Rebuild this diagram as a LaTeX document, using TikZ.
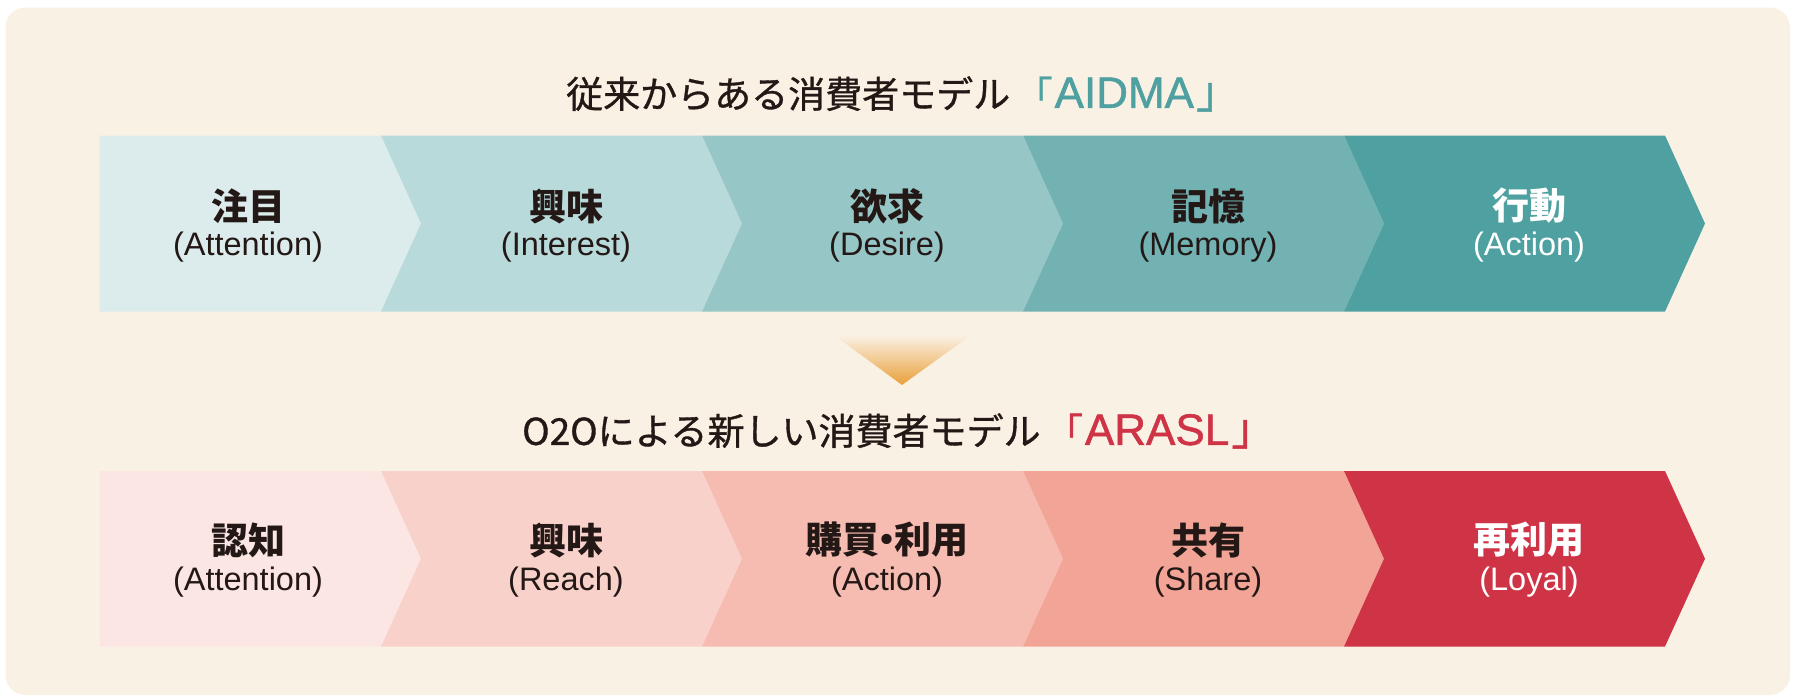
\documentclass[tikz,border=0pt]{standalone}
\usepackage{fontspec}
\setmainfont{Liberation Sans}
\newfontfamily\jp{Noto Sans CJK JP}
\newfontfamily\jpm[FakeBold=0.9]{Noto Sans CJK JP}
\newfontfamily\latm[FakeBold=1.2]{Liberation Sans}
\definecolor{bgc}{HTML}{FAF1E5}
\definecolor{ink}{HTML}{231815}
\definecolor{tA}{HTML}{DCEBEB}
\definecolor{tB}{HTML}{B8DADB}
\definecolor{tC}{HTML}{97C6C6}
\definecolor{tD}{HTML}{72B2B3}
\definecolor{tE}{HTML}{4EA0A1}
\definecolor{rA}{HTML}{FCE6E4}
\definecolor{rB}{HTML}{F9D1CB}
\definecolor{rC}{HTML}{F6BBB1}
\definecolor{rD}{HTML}{F2A597}
\definecolor{rE}{HTML}{CF3346}
\definecolor{orng}{HTML}{E9A03A}
\tikzset{
  kanji/.style={font=\jp\bfseries\fontsize{37}{42}\selectfont, text=ink, inner sep=0pt, anchor=center},
  eng/.style={font=\fontsize{32.5}{37}\selectfont, text=ink, inner sep=0pt, anchor=center},
  title/.style={font=\jpm\fontsize{37}{42}\selectfont, text=ink, inner sep=0pt, anchor=center},
}
\begin{document}
\begin{tikzpicture}[x=1pt,y=-1pt]
\useasboundingbox (0,0) rectangle (1793,697);
\fill[white] (0,0) rectangle (1793,697);
\fill[bgc, rounded corners=20] (5.5,7.5) rectangle (1790,695);
% top row
\def\T{135.5}\def\B{311.5}\def\M{223.5}
\fill[tA] (99.5,\T) -- (381,\T) -- (421,\M) -- (381,\B) -- (99.5,\B) -- cycle;
\foreach \a/\b/\c in {381/702/tB, 702/1023/tC, 1023/1344/tD, 1344/1665/tE}{
  \fill[\c] (\a,\T) -- (\b,\T) -- (\b+40,\M) -- (\b,\B) -- (\a,\B) -- (\a+40,\M) -- cycle;
}
% bottom row
\def\TT{471}\def\BB{646.5}\def\MM{558.7}
\fill[rA] (99.5,\TT) -- (381,\TT) -- (421,\MM) -- (381,\BB) -- (99.5,\BB) -- cycle;
\foreach \a/\b/\c in {381/702/rB, 702/1023/rC, 1023/1344/rD, 1344/1665/rE}{
  \fill[\c] (\a,\TT) -- (\b,\TT) -- (\b+40,\MM) -- (\b,\BB) -- (\a,\BB) -- (\a+40,\MM) -- cycle;
}
% titles
\node[title, anchor=west] (t1) at (566,94) {従来からある消費者モデル\kern0.15em{\color{tE}「\kern0.05em\latm\fontsize{44}{48}\selectfont AIDMA\kern0.05em\jpm」}};
\node[title, anchor=west] (t2) at (522,431) {O2Oによる新しい消費者モデル\kern0.15em{\color{rE}「\kern0.05em\latm\fontsize{44}{48}\selectfont ARASL\kern0.05em\jpm」}};
% triangle
\shade[top color=bgc, bottom color=orng] (834,335) -- (971,335) -- (902,385) -- cycle;
% top texts
\node[kanji] (k1) at (248,206) {注目};
\node[eng] (e1) at (248,247) {(Attention)};
\node[kanji] (k2) at (566,206) {興味};
\node[eng] (e2) at (566,247) {(Interest)};
\node[kanji] (k3) at (887,206) {欲求};
\node[eng] (e3) at (887,247) {(Desire)};
\node[kanji] (k4) at (1208,206) {記憶};
\node[eng] (e4) at (1208,247) {(Memory)};
\node[kanji,text=white] (k5) at (1529,206) {行動};
\node[eng,text=white] (e5) at (1529,247) {(Action)};
% bottom texts
\node[kanji] (m1) at (248,540) {認知};
\node[eng] (f1) at (248,582) {(Attention)};
\node[kanji] (m2) at (566,540) {興味};
\node[eng] (f2) at (566,582) {(Reach)};
\node[kanji] (m3) at (887,540) {購買\kern-0.3em・\kern-0.3em利用};
\node[eng] (f3) at (887,582) {(Action)};
\node[kanji] (m4) at (1208,540) {共有};
\node[eng] (f4) at (1208,582) {(Share)};
\node[kanji,text=white] (m5) at (1529,540) {再利用};
\node[eng,text=white] (f5) at (1529,582) {(Loyal)};
\end{tikzpicture}
\end{document}
